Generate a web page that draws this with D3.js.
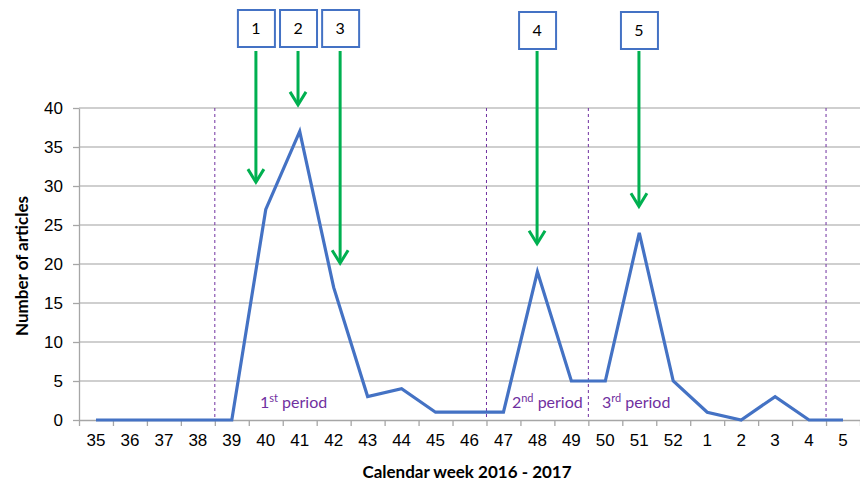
<html>
  <head>
    <meta charset="utf-8" />
    <script src="https://cdnjs.cloudflare.com/ajax/libs/d3/7.6.1/d3.min.js"></script>
    <style>
      body { margin: 0; background: #fff; }
      svg { font-family: Lato, "Open Sans", sans-serif; }
    </style>
  </head>
  <body>
    <svg width="860" height="485"></svg>
  </body>
  <script>
    // data
    const weeks = ["35","36","37","38","39","40","41","42","43","44","45","46",
                   "47","48","49","50","51","52","1","2","3","4","5"];
    const articles = [0,0,0,0,0,27,37,17,3,4,1,1,1,19,5,5,24,5,1,0,3,0,0];
    const yTicks = [0,5,10,15,20,25,30,35,40];

    // dashed period borders: index of the boundary (left edge of that week)
    const borders = [4, 12, 15, 22];
    // period labels: [position in week index units, main, superscript]
    const periods = [[4.83, "1", "st"], [12.25, "2", "nd"], [14.9, "3", "rd"]];
    // annotation arrows: [label, week position, value at arrow tip]
    const notes = [["1", 4.71, 30.5], ["2", 5.95, 40.4], ["3", 7.19, 20.1],
                   ["4", 12.99, 22.6], ["5", 15.99, 27.4]];

    const svg = d3.select("svg");
    const mLeft = 79, mRight = 860, mTop = 108, mBottom = 420;

    const x = d3.scaleBand().domain(weeks).range([mLeft, mRight]).padding(0);
    const xi = d3.scaleLinear().domain([-0.5, weeks.length - 0.5]).range([mLeft, mRight]);
    const y = d3.scaleLinear().domain([0, 40]).range([mBottom, mTop]);

    // gridlines
    svg.append("g").selectAll("line").data(yTicks.slice(1)).join("line")
      .attr("x1", mLeft).attr("x2", mRight)
      .attr("y1", d => y(d)).attr("y2", d => y(d))
      .attr("stroke", "#bfbfbf").attr("stroke-width", 1.3);

    // y axis
    const yAxis = svg.append("g").attr("transform", `translate(${mLeft},0)`)
      .call(d3.axisLeft(y).tickValues(yTicks).tickSize(6).tickPadding(10).tickSizeOuter(0));
    yAxis.selectAll("path, line").attr("stroke", "#a6a6a6").attr("stroke-width", 1.3);
    yAxis.selectAll("text").attr("font-size", 17).attr("fill", "#000");

    // x axis: labels centered in bands, ticks on boundaries
    const xAxis = svg.append("g").attr("transform", `translate(0,${mBottom})`)
      .call(d3.axisBottom(x).tickSize(0).tickPadding(14).tickSizeOuter(0));
    xAxis.select("path").attr("stroke", "#a6a6a6").attr("stroke-width", 1.3);
    xAxis.selectAll("text").attr("font-size", 17).attr("fill", "#000");

    const xTickAxis = svg.append("g").attr("transform", `translate(0,${mBottom})`)
      .call(d3.axisBottom(xi).tickValues(d3.range(-0.5, weeks.length, 1))
        .tickSize(6).tickFormat("").tickSizeOuter(0));
    xTickAxis.select("path").remove();
    xTickAxis.selectAll("line").attr("stroke", "#a6a6a6").attr("stroke-width", 1.3);

    // dashed period borders
    svg.append("g").selectAll("line").data(borders).join("line")
      .attr("x1", d => xi(d - 0.5)).attr("x2", d => xi(d - 0.5))
      .attr("y1", mTop).attr("y2", mBottom)
      .attr("stroke", "#7030a0").attr("stroke-width", 1)
      .attr("stroke-dasharray", "3,3");

    // series line
    const line = d3.line()
      .x((d, i) => x(weeks[i]) + x.bandwidth() / 2)
      .y(d => y(d));
    svg.append("path").datum(articles)
      .attr("d", line)
      .attr("fill", "none")
      .attr("stroke", "#4472c4")
      .attr("stroke-width", 3.2)
      .attr("stroke-linejoin", "miter");

    // period labels
    const pl = svg.append("g").selectAll("text").data(periods).join("text")
      .attr("x", d => xi(d[0])).attr("y", 408)
      .attr("fill", "#7030a0").attr("font-size", 16);
    pl.append("tspan").text(d => d[1]);
    pl.append("tspan").attr("font-size", 11).attr("dy", -6).text(d => d[2]);
    pl.append("tspan").attr("dy", 6).text(" period");

    // annotation boxes and arrows
    const ng = svg.append("g").selectAll("g").data(notes).join("g")
      .attr("transform", d => `translate(${xi(d[1])},0)`);
    ng.append("rect")
      .attr("x", -18).attr("y", d => (+d[0] <= 3 ? 10 : 12))
      .attr("width", 37).attr("height", 37)
      .attr("fill", "#fff").attr("stroke", "#4472c4").attr("stroke-width", 2);
    ng.append("text")
      .attr("x", 0).attr("y", d => (+d[0] <= 3 ? 34 : 36))
      .attr("text-anchor", "middle").attr("font-size", 16).attr("fill", "#000")
      .text(d => d[0]);
    ng.append("line")
      .attr("x1", 0).attr("x2", 0).attr("y1", 51).attr("y2", d => y(d[2]) - 2)
      .attr("stroke", "#00b050").attr("stroke-width", 3);
    ng.append("path")
      .attr("d", d => `M-8,${y(d[2]) - 13} L0,${y(d[2])} L8,${y(d[2]) - 13}`)
      .attr("fill", "none").attr("stroke", "#00b050").attr("stroke-width", 3);

    // axis titles
    svg.append("text")
      .attr("transform", `translate(28,${(mTop + mBottom) / 2 + 2}) rotate(-90)`)
      .attr("text-anchor", "middle").attr("font-size", 17).attr("font-weight", "bold")
      .text("Number of articles");
    svg.append("text")
      .attr("x", 467).attr("y", 478)
      .attr("text-anchor", "middle").attr("font-size", 17).attr("font-weight", "bold")
      .text("Calendar week 2016 - 2017");
  </script>
</html>
